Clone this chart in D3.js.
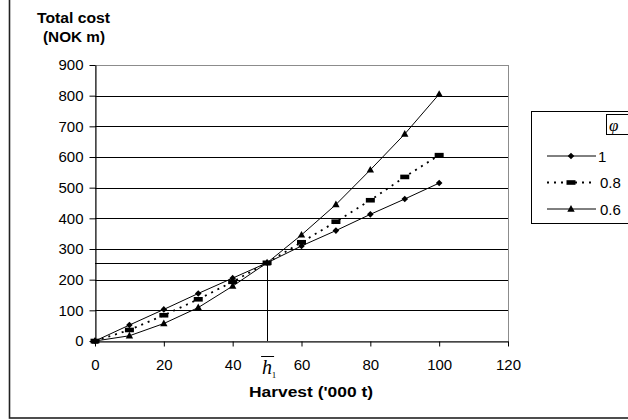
<!DOCTYPE html>
<html>
<head>
<meta charset="utf-8">
<script src="https://cdn.jsdelivr.net/npm/d3@7"></script>
<style>
  html, body { margin: 0; padding: 0; background: #fff; }
  svg { display: block; font-family: "Liberation Sans", Arial, sans-serif; }
</style>
</head>
<body>
<svg id="chart" width="628" height="420"></svg>
<script>
// harvest ('000 t)
const harvest = [0, 10, 20, 30, 40, 50, 60, 70, 80, 90, 100];
// total cost (NOK m) per phi
const phi1 = [0, 52, 103, 155, 205, 255, 310, 360, 413, 463, 515];
const phi08 = [0, 36, 84, 136, 193, 255, 322, 389, 459, 535, 606];
const phi06 = [0, 17, 57, 109, 179, 255, 346, 445, 558, 675, 805];
const seriesNames = ["1", "0.8", "0.6"];
const xTicks = [0, 20, 40, 60, 80, 100, 120];
const yTicks = [0, 100, 200, 300, 400, 500, 600, 700, 800, 900];
const hBar = 50, hBarCost = 254;

const svg = d3.select("#chart");

// outer chart frame (clipped at top and right like the source)
svg.append("rect")
  .attr("x", 9.5).attr("y", -5).attr("width", 700).attr("height", 423)
  .attr("fill", "none").attr("stroke", "#222").attr("stroke-width", 1.6);

const x = d3.scaleLinear().domain([0, 120]).range([95, 508]);
const y = d3.scaleLinear().domain([0, 900]).range([341, 65]);

// plot area border (grey)
svg.append("rect")
  .attr("x", x(0) + 0.5).attr("y", y(900) + 0.5)
  .attr("width", x(120) - x(0)).attr("height", y(0) - y(900))
  .attr("fill", "none").attr("stroke", "#8c8c8c").attr("stroke-width", 1);

// gridlines
svg.append("g").selectAll("line")
  .data(yTicks.filter(d => d > 0 && d < 900))
  .join("line")
  .attr("x1", x(0)).attr("x2", x(120))
  .attr("y1", d => Math.round(y(d)) + 0.5).attr("y2", d => Math.round(y(d)) + 0.5)
  .attr("stroke", "#000").attr("stroke-width", 1);

// axes
const xAxis = svg.append("g")
  .attr("transform", `translate(0,${Math.round(y(0)) + 0.5})`)
  .call(d3.axisBottom(x).tickValues(xTicks).tickSize(5).tickPadding(12).tickSizeOuter(0));
const yAxis = svg.append("g")
  .attr("transform", `translate(${Math.round(x(0)) + 0.5},0)`)
  .call(d3.axisLeft(y).tickValues(yTicks).tickSize(6).tickPadding(6).tickSizeOuter(0));
[xAxis, yAxis].forEach(a => {
  a.attr("font-family", null).attr("font-size", null);
  a.select(".domain").attr("stroke", "#000");
  a.selectAll(".tick line").attr("stroke", "#000");
  a.selectAll(".tick text")
    .attr("font-family", "'Liberation Sans', Arial, sans-serif")
    .attr("font-size", 15).attr("fill", "#000");
});
xAxis.selectAll(".tick text").attr("dy", "0.75em");

// h-bar reference lines
svg.append("path")
  .attr("d", `M${x(0)},${Math.round(y(hBarCost)) + 0.5}H${Math.round(x(hBar)) + 0.5}V${y(0)}`)
  .attr("fill", "none").attr("stroke", "#000").attr("stroke-width", 1);

// h-bar label under the axis
const hb = svg.append("g").attr("transform", `translate(${x(hBar)},0)`);
hb.append("text")
  .attr("x", 0).attr("y", 374)
  .attr("font-family", "'Liberation Serif', 'DejaVu Serif', serif")
  .attr("font-style", "italic").attr("font-size", 20)
  .attr("text-anchor", "middle").text("h");
hb.append("line")
  .attr("x1", -6).attr("x2", 7).attr("y1", 356.5).attr("y2", 356.5)
  .attr("stroke", "#000").attr("stroke-width", 1);
hb.append("text")
  .attr("x", 7).attr("y", 378)
  .attr("font-family", "'Liberation Serif', 'DejaVu Serif', serif")
  .attr("font-size", 9).attr("text-anchor", "middle").text("1");

// axis titles
svg.append("text")
  .attr("x", 249).attr("y", 397)
  .attr("font-weight", "bold").attr("font-size", 14)
  .attr("textLength", 124).attr("lengthAdjust", "spacingAndGlyphs")
  .text("Harvest ('000 t)");
svg.append("text")
  .attr("x", 37).attr("y", 23)
  .attr("font-weight", "bold").attr("font-size", 14)
  .attr("textLength", 73).attr("lengthAdjust", "spacingAndGlyphs")
  .text("Total cost");
svg.append("text")
  .attr("x", 43).attr("y", 42)
  .attr("font-weight", "bold").attr("font-size", 14)
  .attr("textLength", 62).attr("lengthAdjust", "spacingAndGlyphs")
  .text("(NOK m)");

// series
const series = [
  { name: seriesNames[0], values: phi1, dash: null, marker: "diamond" },
  { name: seriesNames[1], values: phi08, dash: "2,5", marker: "bar" },
  { name: seriesNames[2], values: phi06, dash: null, marker: "triangle" }
];

const line = d3.line().x((d, i) => x(harvest[i])).y(d => y(d));

function drawMarker(g, type, cx, cy) {
  if (type === "diamond") {
    g.append("path").attr("d", `M${cx},${cy - 3.3}L${cx + 3.3},${cy}L${cx},${cy + 3.3}L${cx - 3.3},${cy}Z`).attr("fill", "#000");
  } else if (type === "bar") {
    g.append("rect").attr("x", cx - 4.5).attr("y", cy - 2.3).attr("width", 9).attr("height", 4.6).attr("fill", "#000");
  } else {
    g.append("path").attr("d", `M${cx},${cy - 4}L${cx + 3.7},${cy + 2.7}L${cx - 3.7},${cy + 2.7}Z`).attr("fill", "#000");
  }
}

for (const s of series) {
  svg.append("path")
    .datum(s.values)
    .attr("d", line)
    .attr("fill", "none").attr("stroke", "#000")
    .attr("stroke-width", s.dash ? 1.8 : 1)
    .attr("stroke-dasharray", s.dash);
  const mg = svg.append("g");
  s.values.forEach((v, i) => drawMarker(mg, s.marker, x(harvest[i]), y(v)));
}

// legend
const lg = svg.append("g");
lg.append("rect")
  .attr("x", 531.5).attr("y", 111.5).attr("width", 200).attr("height", 112)
  .attr("fill", "#fff").attr("stroke", "#000").attr("stroke-width", 1);
lg.append("rect")
  .attr("x", 606.5).attr("y", 114.5).attr("width", 40).attr("height", 20)
  .attr("fill", "none").attr("stroke", "#000").attr("stroke-width", 1);
lg.append("text")
  .attr("x", 609).attr("y", 131)
  .attr("font-family", "'Liberation Serif', 'DejaVu Serif', serif")
  .attr("font-style", "italic").attr("font-size", 17).text("φ");

series.forEach((s, i) => {
  const ly = 156 + i * 26.5;
  lg.append("line")
    .attr("x1", 547).attr("x2", 596).attr("y1", ly).attr("y2", ly)
    .attr("stroke", "#000")
    .attr("stroke-width", s.dash ? 1.8 : 1)
    .attr("stroke-dasharray", s.dash);
  drawMarker(lg, s.marker, 571, ly);
  lg.append("text")
    .attr("x", i === 0 ? 598 : 600).attr("y", ly + 5.5)
    .attr("font-size", 15).text(s.name);
});
</script>
</body>
</html>
